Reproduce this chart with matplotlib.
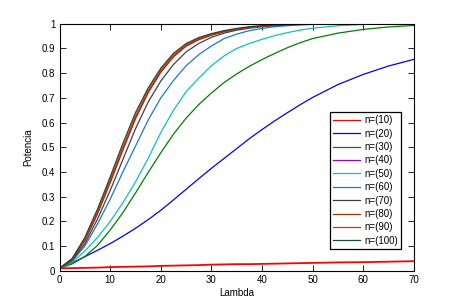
import numpy as np
import matplotlib
matplotlib.use('Agg')
import matplotlib.pyplot as plt

plt.rcParams['font.family'] = ['Liberation Sans', 'DejaVu Sans']

# lambda grid and power curves
lam = [0, 2.5, 5, 7.5, 10, 12.5, 15, 17.5, 20, 22.5, 25, 27.5, 30,
       32.5, 35, 37.5, 40, 42.5, 45, 47.5, 50, 55, 60, 65, 70]

p10 = [0.010, 0.011, 0.012, 0.013, 0.015, 0.016, 0.017, 0.018, 0.020, 0.021, 0.022,
       0.023, 0.025, 0.026, 0.027, 0.027, 0.028, 0.029, 0.030, 0.031, 0.032,
       0.034, 0.035, 0.037, 0.039]
p20 = [0.010, 0.032, 0.057, 0.083, 0.110, 0.140, 0.172, 0.207, 0.245, 0.287, 0.330,
       0.373, 0.415, 0.455, 0.495, 0.535, 0.572, 0.607, 0.640, 0.672, 0.702,
       0.754, 0.795, 0.829, 0.856]
p30 = [0.010, 0.028, 0.058, 0.103, 0.165, 0.235, 0.315, 0.398, 0.478, 0.553, 0.618,
       0.673, 0.720, 0.762, 0.797, 0.828, 0.855, 0.880, 0.903, 0.923, 0.940,
       0.962, 0.977, 0.987, 0.993]
p50 = [0.010, 0.035, 0.080, 0.135, 0.200, 0.275, 0.360, 0.455, 0.560, 0.650, 0.725,
       0.780, 0.830, 0.870, 0.900, 0.920, 0.937, 0.952, 0.964, 0.974, 0.982,
       0.992, 0.997, 0.999, 1.000]
p60 = [0.010, 0.040, 0.100, 0.190, 0.290, 0.400, 0.505, 0.610, 0.700, 0.770, 0.830,
       0.875, 0.910, 0.940, 0.958, 0.972, 0.981, 0.988, 0.992, 0.995, 0.997,
       0.999, 1.000, 1.000, 1.000]
p70 = [0.010, 0.042, 0.110, 0.210, 0.325, 0.450, 0.575, 0.683, 0.768, 0.835, 0.886,
       0.920, 0.945, 0.962, 0.974, 0.982, 0.988, 0.992, 0.995, 0.997, 0.998,
       0.999, 1.000, 1.000, 1.000]
p80 = [0.010, 0.046, 0.123, 0.232, 0.358, 0.490, 0.617, 0.722, 0.805, 0.867, 0.910,
       0.936, 0.954, 0.968, 0.978, 0.985, 0.990, 0.994, 0.996, 0.998, 0.999,
       1.000, 1.000, 1.000, 1.000]
p90 = [0.010, 0.048, 0.128, 0.240, 0.368, 0.500, 0.627, 0.730, 0.812, 0.873, 0.915,
       0.940, 0.957, 0.970, 0.979, 0.986, 0.991, 0.994, 0.996, 0.998, 0.999,
       1.000, 1.000, 1.000, 1.000]
p100 = [0.010, 0.050, 0.135, 0.250, 0.380, 0.515, 0.640, 0.740, 0.820, 0.880, 0.920,
        0.944, 0.960, 0.972, 0.981, 0.988, 0.992, 0.995, 0.997, 0.998, 0.999,
        1.000, 1.000, 1.000, 1.000]
p40 = p80  # hidden under the later curves in the original

curves = [p10, p20, p30, p40, p50, p60, p70, p80, p90, p100]
labels = ['n=(10)', 'n=(20)', 'n=(30)', 'n=(40)', 'n=(50)',
          'n=(60)', 'n=(70)', 'n=(80)', 'n=(90)', 'n=(100)']
colors = ['#ff0000', '#0000ff', '#008000', '#a000b0', '#10c0c0',
          '#1a78d8', '#404040', '#a03000', '#e03000', '#1a4a30']

fig = plt.figure(figsize=(4.58, 3.06), dpi=100)
ax = fig.add_axes([0.13, 0.115, 0.774, 0.8075])

for i, (y, lab, c) in enumerate(zip(curves, labels, colors)):
    ax.plot(lam, y, color=c, lw=1.3 if i == 0 else 0.9, label=lab)

ax.set_xlim(0, 70)
ax.set_ylim(0, 1)
ax.set_xticks(np.arange(0, 71, 10))
ax.set_yticks(np.arange(0, 1.01, 0.1))
ax.set_yticklabels(['0', '0.1', '0.2', '0.3', '0.4', '0.5', '0.6', '0.7', '0.8', '0.9', '1'])
ax.tick_params(direction='in', top=True, right=True, length=4, width=0.6,
               labelsize=7, pad=3)
for s in ax.spines.values():
    s.set_linewidth(0.8)

ax.set_xlabel('Lambda', fontsize=7, labelpad=2)
ax.set_ylabel('Potencia', fontsize=7, labelpad=6)

leg = ax.legend(loc='upper left', bbox_to_anchor=(330 / 458, 1 - 112.3 / 306),
                bbox_transform=fig.transFigure, borderaxespad=0, fontsize=7,
                handlelength=2.8, handletextpad=0.4, labelspacing=0.35,
                borderpad=0.3, fancybox=False, framealpha=1)
leg.get_frame().set_edgecolor('black')
leg.get_frame().set_linewidth(0.9)
for h in leg.get_lines():
    h.set_linewidth(0.9)

fig.savefig('out.png', dpi=100)
